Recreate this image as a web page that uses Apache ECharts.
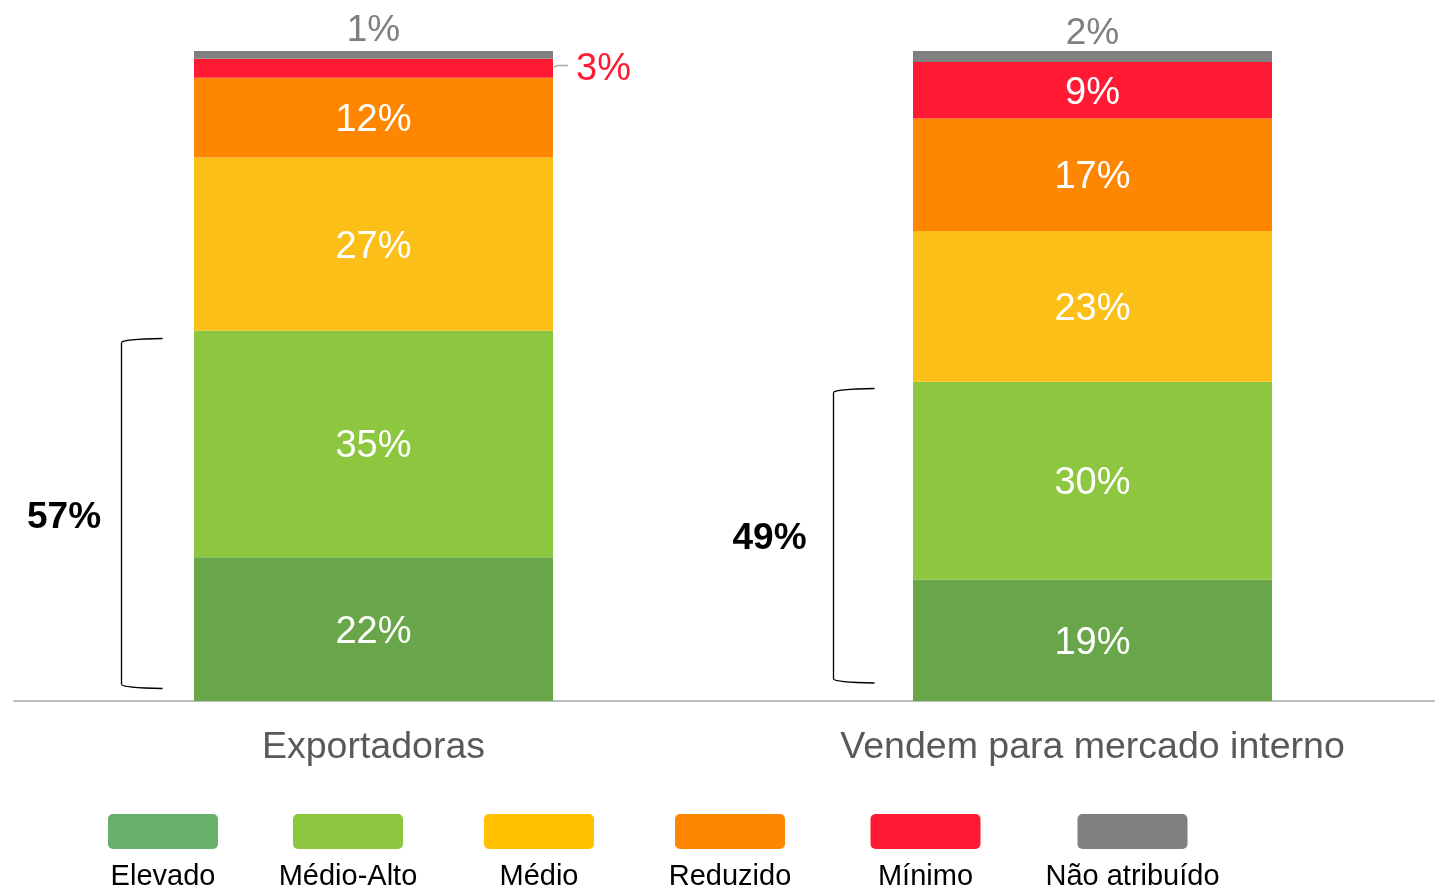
<!DOCTYPE html>
<html>
<head>
<meta charset="utf-8">
<script src="https://cdn.jsdelivr.net/npm/echarts@6/dist/echarts.min.js"></script>
<style>
html,body{margin:0;padding:0;background:#fff;}
#chart{width:1435px;height:890px;}
</style>
</head>
<body>
<div id="chart"></div>
<script>
// ---- data ----
const categories = ['Exportadoras', 'Vendem para mercado interno'];
const seriesNames = ['Elevado', 'Médio-Alto', 'Médio', 'Reduzido', 'Mínimo', 'Não atribuído'];
const elevado     = [22.1, 18.7];
const medioAlto   = [34.9, 30.4];
const medio       = [26.6, 23.2];
const reduzido    = [12.3, 17.3];
const minimo      = [2.9, 8.7];
const naoAtribuido = [1.2, 1.7];
const seriesValues = [elevado, medioAlto, medio, reduzido, minimo, naoAtribuido];

// ---- styles ----
const barColors    = ['#69A64A', '#8DC63F', '#FCBF17', '#FF8600', '#FF1A33', '#808080'];
const legendColors = ['#68AF6B', '#8DC63F', '#FFC000', '#FF8600', '#FF1A33', '#808080'];
const legendCenters = [163, 348, 539, 730, 925.5, 1132.5];
const topLabelOffsets = [[0, 1], [0, 4]];
const FONT = '"Liberation Sans", Arial, sans-serif';

const fmt = v => Math.round(v) + '%';

const series = seriesNames.map((name, i) => {
  const s = {
    name: name,
    type: 'bar',
    stack: 'total',
    barWidth: 359,
    itemStyle: { color: barColors[i] },
    emphasis: { disabled: true },
    label: {
      show: true,
      position: 'inside',
      offset: [0, 3],
      color: '#ffffff',
      fontSize: 38,
      fontFamily: FONT,
      formatter: p => fmt(p.value)
    },
    data: seriesValues[i].map(v => v)
  };
  if (name === 'Mínimo') {
    s.data = seriesValues[i].map((v, j) => j === 0 ? {
      value: v,
      label: { position: 'right', distance: 23, offset: [0, 1], color: '#FF1A33' }
    } : v);
  }
  if (name === 'Não atribuído') {
    s.label = Object.assign({}, s.label, { position: 'top', distance: 3, fontSize: 37, color: '#7F7F7F' });
    s.data = seriesValues[i].map((v, j) => ({ value: v, label: { offset: topLabelOffsets[j] } }));
  }
  return s;
});

// bracket sums (Elevado + Médio-Alto)
const bracketSums = elevado.map((v, i) => fmt(v + medioAlto[i]));

const graphics = [];
const lineStyle = { stroke: '#000', lineWidth: 1.3, fill: null };
// brackets
const brackets = [
  { x: 121.5, yTop: 338.5, yBot: 688, xEnd: 162.5, lx: 64, ly: 518 },
  { x: 833.5, yTop: 388.5, yBot: 682.5, xEnd: 874.5, lx: 769.5, ly: 539 }
];
brackets.forEach((b, i) => {
  graphics.push({
    type: 'bezierCurve',
    shape: { x1: b.xEnd, y1: b.yTop, x2: b.x, y2: b.yTop + 4, cpx1: b.x + 1, cpy1: b.yTop + 0.8 },
    style: lineStyle
  });
  graphics.push({
    type: 'line',
    shape: { x1: b.x, y1: b.yTop + 4, x2: b.x, y2: b.yBot - 3.5 },
    style: lineStyle
  });
  graphics.push({
    type: 'bezierCurve',
    shape: { x1: b.x, y1: b.yBot - 3.5, x2: b.xEnd, y2: b.yBot + 0.5, cpx1: b.x + 1, cpy1: b.yBot - 0.3 },
    style: lineStyle
  });
  graphics.push({
    type: 'text',
    x: b.lx, y: b.ly,
    style: {
      text: bracketSums[i], fill: '#000', font: 'bold 37px ' + FONT,
      align: 'center', verticalAlign: 'middle'
    }
  });
});
// leader line for 3%
graphics.push({
  type: 'polyline',
  shape: { points: [[554, 67.5], [557, 65.5], [568, 65.5]] },
  style: { fill: null, stroke: '#A6A6A6', lineWidth: 1.5 }
});
// legend
seriesNames.forEach((name, i) => {
  graphics.push({
    type: 'rect',
    shape: { x: legendCenters[i] - 55, y: 814, width: 110, height: 35, r: 5 },
    style: { fill: legendColors[i] }
  });
  graphics.push({
    type: 'text',
    x: legendCenters[i], y: 877,
    style: {
      text: name, fill: '#000', font: '29px ' + FONT,
      align: 'center', verticalAlign: 'middle'
    }
  });
});

const chart = echarts.init(document.getElementById('chart'), null, { renderer: 'canvas' });
chart.setOption({
  animation: false,
  backgroundColor: '#ffffff',
  grid: { left: 14, top: 51, width: 1438, height: 650, containLabel: false, outerBoundsMode: 'none' },
  xAxis: {
    type: 'category',
    data: categories,
    axisTick: { show: false },
    axisLine: { show: true, lineStyle: { color: '#A6A6A6', width: 1.5 } },
    axisLabel: { color: '#595959', fontSize: 37.5, fontFamily: FONT, margin: 28 }
  },
  yAxis: {
    type: 'value', min: 0, max: 100, show: false,
    splitLine: { show: false }
  },
  legend: { show: false },
  series: series,
  graphic: graphics
});
</script>
</body>
</html>
